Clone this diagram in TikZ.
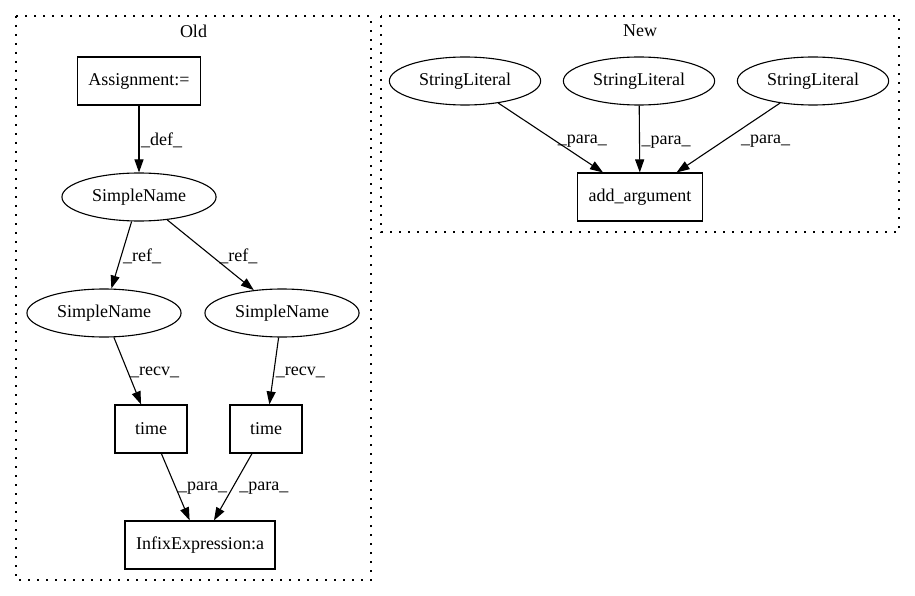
\documentclass[tikz,border=0pt]{standalone}
\usepackage{fontspec}
\setmainfont{Liberation Serif}
\usetikzlibrary{shapes.geometric,arrows.meta}

\tikzset{
  stmt/.style={draw, rectangle, line width=1.1pt, minimum width=72pt, minimum height=48pt, inner xsep=11pt},
  expr/.style={draw, ellipse, line width=1.1pt, minimum height=48pt, inner xsep=7.5pt, inner ysep=0pt},
  dep/.style={line width=1.1pt, -{Triangle[length=13pt,width=9pt]}},
  elabel/.style={anchor=west, inner sep=1.5pt, pos=.52},
  cluster/.style={line width=1.1pt, dash pattern=on 2pt off 7pt}
}

\begin{document}
\begin{tikzpicture}[x=1pt,y=-1pt,font=\fontsize{18}{21}\selectfont]
\path[fill=white, use as bounding box] (0,0) rectangle (915,596);

% Old
\draw[cluster] (16,16) rectangle (371,580);
\node (oldtitle) at (193.5,31) {Old};
\node[stmt] (assign) at (139,81) {Assignment:=};
\node[expr] (sn0) at (139,197) {SimpleName};
\node[expr] (sn1) at (104,313) {SimpleName};
\node[expr] (sn2) at (282,313) {SimpleName};
\node[stmt] (time1) at (151,429) {time};
\node[stmt] (time2) at (266,429) {time};
\node[stmt] (infix) at (200,545) {InfixExpression:a};

\draw[dep] (assign) -- node[elabel] {\_def\_} (sn0);
\draw[dep] (sn0) -- node[elabel] {\_ref\_} (sn1);
\draw[dep] (sn0) -- node[elabel, xshift=5pt] {\_ref\_} (sn2);
\draw[dep] (sn1) -- node[elabel] {\_recv\_} (time1);
\draw[dep] (sn2) -- node[elabel] {\_recv\_} (time2);
\draw[dep] (time1) -- node[elabel] {\_para\_} (infix);
\draw[dep] (time2) -- node[elabel, xshift=5pt] {\_para\_} (infix);

% New
\draw[cluster] (381,16) rectangle (899,232);
\node (newtitle) at (640,31) {New};
\node[expr] (lit1) at (465,81) {StringLiteral};
\node[expr] (lit2) at (639,81) {StringLiteral};
\node[expr] (lit3) at (813,81) {StringLiteral};
\node[stmt] (addarg) at (640,197) {add\_argument};

\draw[dep] (lit1) -- node[elabel, pos=.55] {\_para\_} (addarg);
\draw[dep] (lit2) -- node[elabel, pos=.55] {\_para\_} (addarg);
\draw[dep] (lit3) -- node[elabel, pos=.55, xshift=16pt] {\_para\_} (addarg);
\end{tikzpicture}
\end{document}
